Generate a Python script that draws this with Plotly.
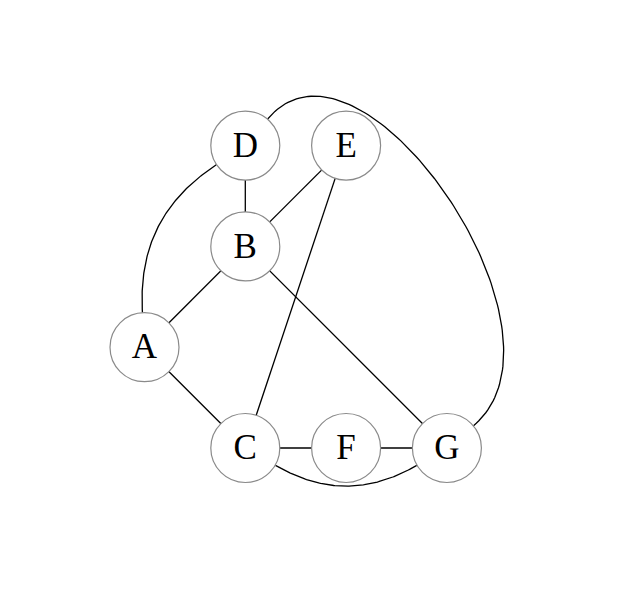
import numpy as np
import plotly.graph_objects as go

# node layout (grid units)
nodes = ["A", "B", "C", "D", "E", "F", "G"]
node_x = [0, 1, 1, 1, 2, 2, 3]
node_y = [2, 3, 1, 4, 4, 1, 1]

# straight edges
lines = [("D", "B"), ("E", "B"), ("A", "B"), ("A", "C"),
         ("B", "G"), ("E", "C"), ("C", "F"), ("F", "G")]

# curved edges: (from, to, out angle, in angle) like tikz "to[out=..,in=..]"
curves = [("C", "G", -30, 210),
          ("D", "A", 213.4, 93.4),
          ("D", "G", 50, 40)]

R = 0.345  # node radius in grid units
pos = {n: np.array([x, y], float) for n, x, y in zip(nodes, node_x, node_y)}


def bezier(a, b, out_deg, in_deg, looseness=1.0):
    uo = np.array([np.cos(np.radians(out_deg)), np.sin(np.radians(out_deg))])
    ui = np.array([np.cos(np.radians(in_deg)), np.sin(np.radians(in_deg))])
    p0 = pos[a] + R * uo
    p3 = pos[b] + R * ui
    d = 0.3915 * looseness * np.linalg.norm(p3 - p0)
    p1 = p0 + d * uo
    p2 = p3 + d * ui
    t = np.linspace(0, 1, 120)[:, None]
    pts = (1 - t) ** 3 * p0 + 3 * t * (1 - t) ** 2 * p1 + 3 * t ** 2 * (1 - t) * p2 + t ** 3 * p3
    return pts[:, 0], pts[:, 1]


fig = go.Figure()

ex, ey = [], []
for a, b in lines:
    ex += [pos[a][0], pos[b][0], None]
    ey += [pos[a][1], pos[b][1], None]
for a, b, o, i in curves:
    cx, cy = bezier(a, b, o, i)
    ex += list(cx) + [None]
    ey += list(cy) + [None]

fig.add_trace(go.Scatter(x=ex, y=ey, mode="lines",
                         line=dict(color="black", width=1.3),
                         hoverinfo="skip"))

fig.add_trace(go.Scatter(
    x=node_x, y=node_y, mode="markers",
    marker=dict(size=69, color="white", line=dict(color="#8a8a8a", width=1.2)),
    hoverinfo="skip"
))

# labels, nudged a touch lower so the caps sit centred in the circles
fig.add_trace(go.Scatter(
    x=node_x, y=[v - 0.025 for v in node_y], mode="text", text=nodes,
    textposition="middle center",
    textfont=dict(family="Liberation Serif", size=35, color="black"),
    hoverinfo="text"
))

# page body adds ~8px offset, so shift the origin accordingly
s = 100.8
x0, y0 = 136.5, 440
fig.update_layout(
    width=638, height=614,
    margin=dict(l=0, r=0, t=0, b=0),
    paper_bgcolor="white", plot_bgcolor="white",
    showlegend=False,
    xaxis=dict(range=[-x0 / s, (638 - x0) / s], visible=False),
    yaxis=dict(range=[1 - (614 - y0) / s, 1 + y0 / s], visible=False),
)

fig.write_html("out.html")
